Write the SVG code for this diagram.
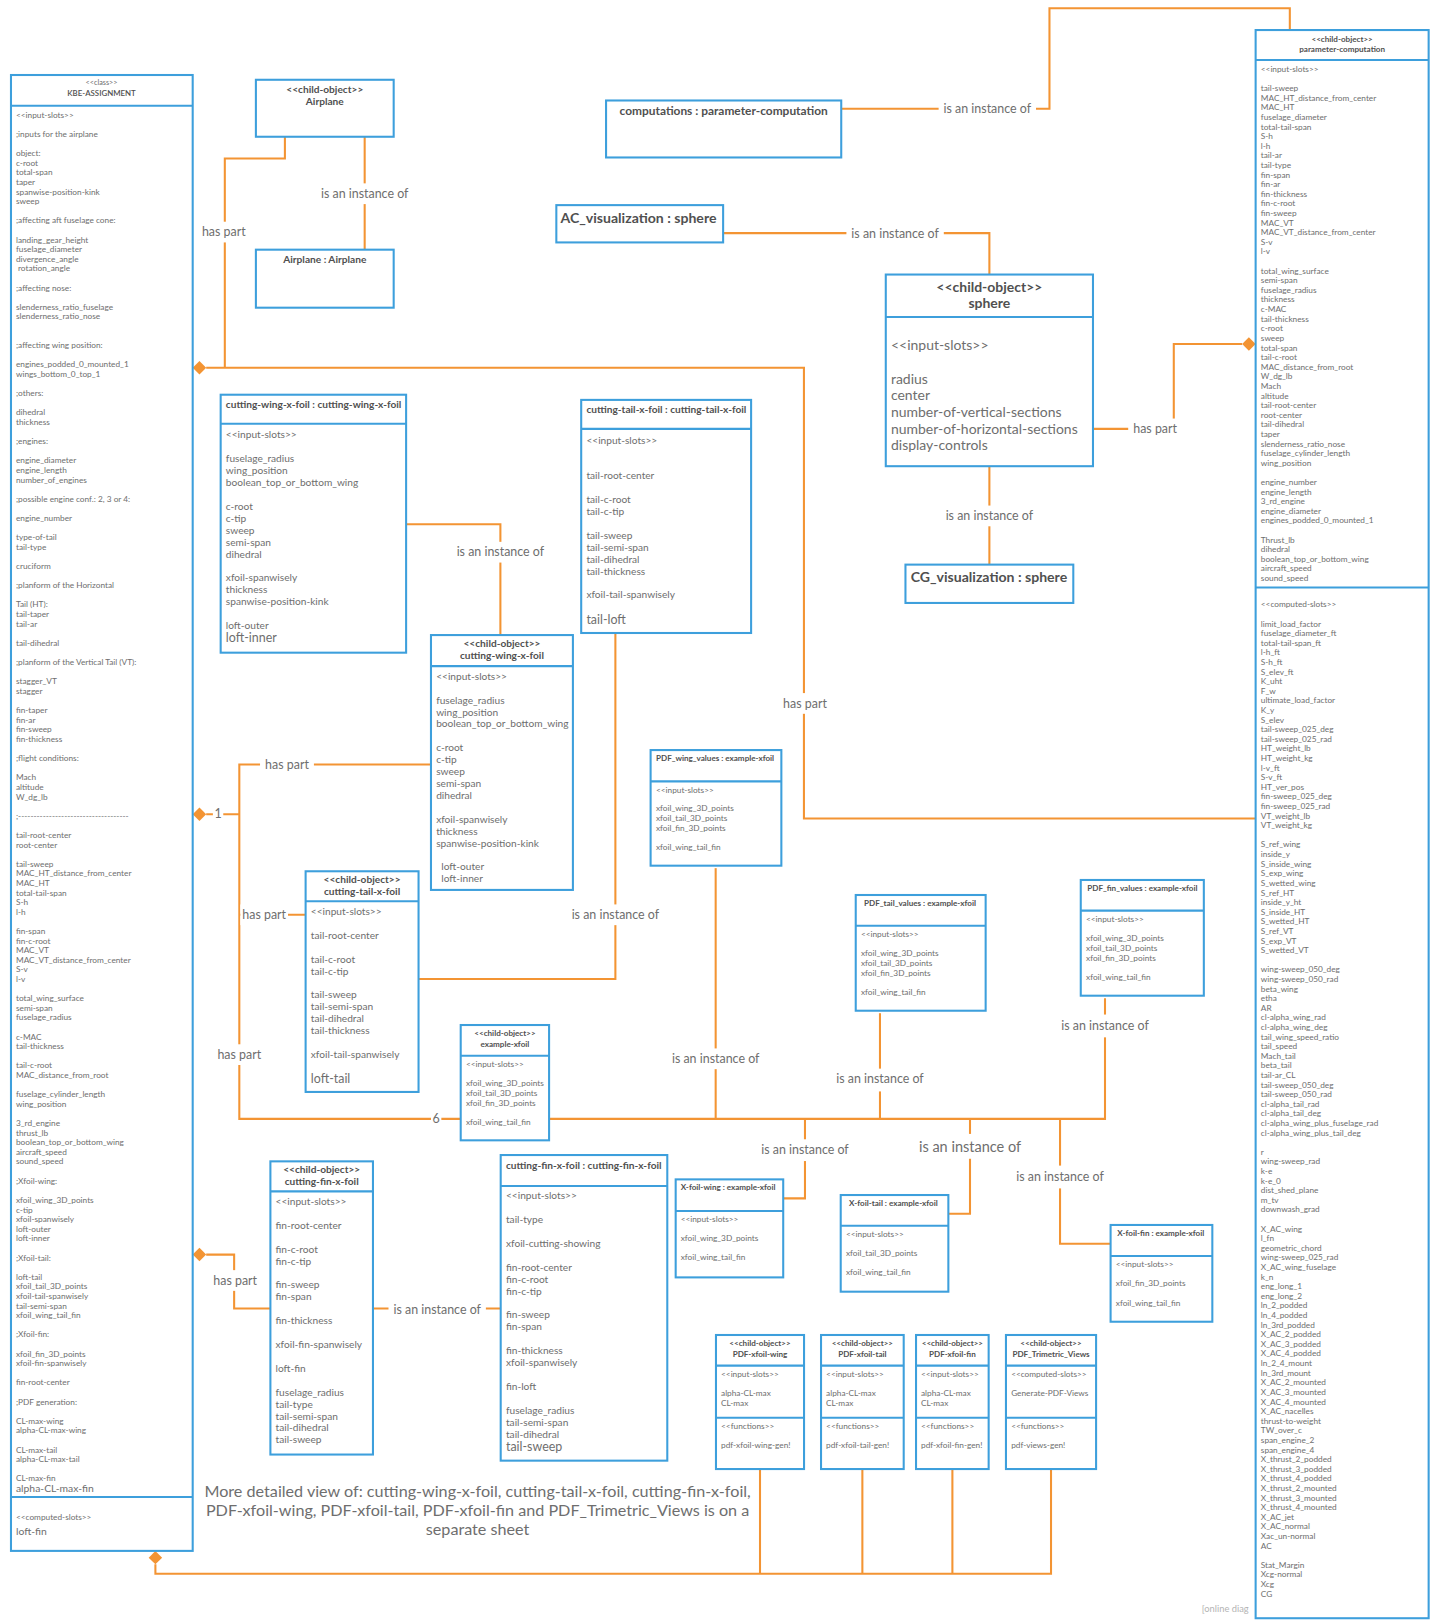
<svg xmlns="http://www.w3.org/2000/svg" width="1440" height="1624" viewBox="0 0 1440 1624">
<style>
.n{fill:#fff;stroke:#3d9fdc;stroke-width:2}
.d{stroke:#3d9fdc;stroke-width:2}
.c{fill:none;stroke:#f39433;stroke-width:2}
.k{fill:#f39433}
text{font-family:Lato,"Liberation Sans",sans-serif;fill:#6e6e6e}
.b{font-weight:700;fill:#505050}
.m{text-anchor:middle}
.s8{font-size:8px}
.s7{font-size:7.8px}
.s10{font-size:9.8px}
.s12{font-size:12px}
.s14{font-size:13.5px}
.lb{font-size:12px;text-anchor:middle}
.bg{fill:#fff}
.wm{font-size:9px;fill:#b4b4b4}
</style>
<rect width="1440" height="1624" fill="#fff"/>
<g transform="scale(1.036)">
<text class="wm" x="1160" y="1556">[online diag</text>

<g id="connectors">
<path class="c" d="M199,355 H776 V790 H1212"/>
<path class="c" d="M217,355 V153 H275 V132"/>
<path class="c" d="M352,132 V241"/>
<path class="c" d="M812,105 H1013 V8 H1245 V29"/>
<path class="c" d="M698,225 H955 V265"/>
<path class="c" d="M955,450 V545"/>
<path class="c" d="M1055,414 H1133 V332 H1199"/>
<path class="c" d="M392,506 H483 V613"/>
<path class="c" d="M594,611 V945 H404"/>
<path class="c" d="M199,786 H231"/>
<path class="c" d="M416,738 H231 V1080 H444.7"/>
<path class="c" d="M231,883 H295"/>
<path class="c" d="M530,1080 H1066.6 V963.6"/>
<path class="c" d="M690.8,838 V1080"/>
<path class="c" d="M849.4,978 V1080"/>
<path class="c" d="M777,1080 V1156.7 H756"/>
<path class="c" d="M936.3,1080 V1171.5 H915.4"/>
<path class="c" d="M1023.2,1080 V1200.5 H1072"/>
<path class="c" d="M199,1211 H226 V1263 H261"/>
<path class="c" d="M360,1263 H483.3"/>
<path class="c" d="M150,1510 V1519 H1014.5 V1418"/>
<path class="c" d="M733.6,1418 V1519 M832.4,1418 V1519 M919.3,1418 V1519"/>
<polygon class="k" points="186,355 192.5,348.5 199,355 192.5,361.5"/>
<polygon class="k" points="186,786 192.5,779.5 199,786 192.5,792.5"/>
<polygon class="k" points="186,1211 192.5,1204.5 199,1211 192.5,1217.5"/>
<polygon class="k" points="1199,332 1205.5,325.5 1212,332 1205.5,338.5"/>
<polygon class="k" points="150,1497 156.5,1503.5 150,1510 143.5,1503.5"/>
</g>

<g id="connector-labels">
<rect class="bg" x="190" y="214" width="52" height="20"/><text class="lb" x="216" y="228">has part</text>
<rect class="bg" x="305" y="177" width="94" height="20"/><text class="lb" x="352" y="191">is an instance of</text>
<rect class="bg" x="906" y="95" width="94" height="20"/><text class="lb" x="953" y="109">is an instance of</text>
<rect class="bg" x="817" y="216" width="94" height="20"/><text class="lb" x="864" y="230">is an instance of</text>
<rect class="bg" x="908" y="488" width="94" height="20"/><text class="lb" x="955" y="502">is an instance of</text>
<rect class="bg" x="1089" y="404" width="52" height="20"/><text class="lb" x="1115" y="418">has part</text>
<rect class="bg" x="436" y="523" width="94" height="20"/><text class="lb" x="483" y="537">is an instance of</text>
<rect class="bg" x="751" y="669" width="52" height="20"/><text class="lb" x="777" y="683">has part</text>
<rect class="bg" x="251" y="728" width="52" height="20"/><text class="lb" x="277" y="742">has part</text>
<rect class="bg" x="205.5" y="777" width="10" height="18"/><text class="lb" x="210.5" y="790">1</text>
<rect class="bg" x="232" y="873" width="46" height="20"/><text class="lb" x="255" y="887">has part</text>
<rect class="bg" x="547" y="873" width="94" height="20"/><text class="lb" x="594" y="887">is an instance of</text>
<rect class="bg" x="205" y="1008" width="52" height="20"/><text class="lb" x="231" y="1022">has part</text>
<rect class="bg" x="416" y="1071" width="10" height="18"/><text class="lb" x="421" y="1084">6</text>
<rect class="bg" x="643.8" y="1012" width="94" height="20"/><text class="lb" x="690.8" y="1026">is an instance of</text>
<rect class="bg" x="802.4" y="1031.5" width="94" height="22"/><text class="lb" x="849.4" y="1045.5">is an instance of</text>
<rect class="bg" x="1019.6" y="979.3" width="94" height="22"/><text class="lb" x="1066.6" y="994.3">is an instance of</text>
<rect class="bg" x="730" y="1099.7" width="94" height="21"/><text class="lb" x="777" y="1113.7">is an instance of</text>
<rect class="bg" x="882.3" y="1094.5" width="108" height="24"/><text class="lb" x="936.3" y="1111.5" style="font-size:14px">is an instance of</text>
<rect class="bg" x="976.2" y="1125.1" width="94" height="22"/><text class="lb" x="1023.2" y="1140.1">is an instance of</text>
<rect class="bg" x="201" y="1226" width="52" height="20"/><text class="lb" x="227" y="1240">has part</text>
<rect class="bg" x="375" y="1254" width="94" height="20"/><text class="lb" x="422" y="1268">is an instance of</text>
</g>

<g id="kbe-assignment">
<rect class="n" x="10.6" y="72.4" width="175.4" height="1424.6"/>
<line class="d" x1="10.6" y1="102" x2="186" y2="102"/>
<line class="d" x1="10.6" y1="1445" x2="186" y2="1445"/>
<text class="m" x="98" y="82.3" style="font-size:7px">&lt;&lt;class&gt;&gt;</text>
<text class="m" x="98" y="92.6" style="font-size:7.6px;font-weight:600;fill:#505050">KBE-ASSIGNMENT</text>
<text class="s8" x="15.4" y="113.6"><tspan>&lt;&lt;input-slots&gt;&gt;</tspan><tspan x="15.4" dy="18.54">;inputs for the airplane</tspan><tspan x="15.4" dy="18.54">object:</tspan><tspan x="15.4" dy="9.27">c-root</tspan><tspan x="15.4" dy="9.27">total-span</tspan><tspan x="15.4" dy="9.27">taper</tspan><tspan x="15.4" dy="9.27">spanwise-position-kink</tspan><tspan x="15.4" dy="9.27">sweep</tspan><tspan x="15.4" dy="18.54">;affecting aft fuselage cone:</tspan><tspan x="15.4" dy="18.54">landing_gear_height</tspan><tspan x="15.4" dy="9.27">fuselage_diameter</tspan><tspan x="15.4" dy="9.27">divergence_angle</tspan><tspan x="17.4" dy="9.27">rotation_angle</tspan><tspan x="15.4" dy="18.54">;affecting nose:</tspan><tspan x="15.4" dy="18.54">slenderness_ratio_fuselage</tspan><tspan x="15.4" dy="9.27">slenderness_ratio_nose</tspan><tspan x="15.4" dy="27.81">;affecting wing position:</tspan><tspan x="15.4" dy="18.54">engines_podded_0_mounted_1</tspan><tspan x="15.4" dy="9.27">wings_bottom_0_top_1</tspan><tspan x="15.4" dy="18.54">;others:</tspan><tspan x="15.4" dy="18.54">dihedral</tspan><tspan x="15.4" dy="9.27">thickness</tspan><tspan x="15.4" dy="18.54">;engines:</tspan><tspan x="15.4" dy="18.54">engine_diameter</tspan><tspan x="15.4" dy="9.27">engine_length</tspan><tspan x="15.4" dy="9.27">number_of_engines</tspan><tspan x="15.4" dy="18.54">;possible engine conf.: 2, 3 or 4:</tspan><tspan x="15.4" dy="18.54">engine_number</tspan><tspan x="15.4" dy="18.54">type-of-tail</tspan><tspan x="15.4" dy="9.27">tail-type</tspan><tspan x="15.4" dy="18.54">cruciform</tspan><tspan x="15.4" dy="18.54">;planform of the Horizontal</tspan><tspan x="15.4" dy="18.54">Tail (HT):</tspan><tspan x="15.4" dy="9.27">tail-taper</tspan><tspan x="15.4" dy="9.27">tail-ar</tspan><tspan x="15.4" dy="18.54">tail-dihedral</tspan><tspan x="15.4" dy="18.54">;planform of the Vertical Tail (VT):</tspan><tspan x="15.4" dy="18.54">stagger_VT</tspan><tspan x="15.4" dy="9.27">stagger</tspan><tspan x="15.4" dy="18.54">fin-taper</tspan><tspan x="15.4" dy="9.27">fin-ar</tspan><tspan x="15.4" dy="9.27">fin-sweep</tspan><tspan x="15.4" dy="9.27">fin-thickness</tspan><tspan x="15.4" dy="18.54">;flight conditions:</tspan><tspan x="15.4" dy="18.54">Mach</tspan><tspan x="15.4" dy="9.27">altitude</tspan><tspan x="15.4" dy="9.27">W_dg_lb</tspan><tspan x="15.4" dy="18.54">;------------------------------------</tspan><tspan x="15.4" dy="18.54">tail-root-center</tspan><tspan x="15.4" dy="9.27">root-center</tspan><tspan x="15.4" dy="18.54">tail-sweep</tspan><tspan x="15.4" dy="9.27">MAC_HT_distance_from_center</tspan><tspan x="15.4" dy="9.27">MAC_HT</tspan><tspan x="15.4" dy="9.27">total-tail-span</tspan><tspan x="15.4" dy="9.27">S-h</tspan><tspan x="15.4" dy="9.27">l-h</tspan><tspan x="15.4" dy="18.54">fin-span</tspan><tspan x="15.4" dy="9.27">fin-c-root</tspan><tspan x="15.4" dy="9.27">MAC_VT</tspan><tspan x="15.4" dy="9.27">MAC_VT_distance_from_center</tspan><tspan x="15.4" dy="9.27">S-v</tspan><tspan x="15.4" dy="9.27">l-v</tspan><tspan x="15.4" dy="18.54">total_wing_surface</tspan><tspan x="15.4" dy="9.27">semi-span</tspan><tspan x="15.4" dy="9.27">fuselage_radius</tspan><tspan x="15.4" dy="18.54">c-MAC</tspan><tspan x="15.4" dy="9.27">tail-thickness</tspan><tspan x="15.4" dy="18.54">tail-c-root</tspan><tspan x="15.4" dy="9.27">MAC_distance_from_root</tspan><tspan x="15.4" dy="18.54">fuselage_cylinder_length</tspan><tspan x="15.4" dy="9.27">wing_position</tspan><tspan x="15.4" dy="18.54">3_rd_engine</tspan><tspan x="15.4" dy="9.27">thrust_lb</tspan><tspan x="15.4" dy="9.27">boolean_top_or_bottom_wing</tspan><tspan x="15.4" dy="9.27">aircraft_speed</tspan><tspan x="15.4" dy="9.27">sound_speed</tspan><tspan x="15.4" dy="18.54">;Xfoil-wing:</tspan><tspan x="15.4" dy="18.54">xfoil_wing_3D_points</tspan><tspan x="15.4" dy="9.27">c-tip</tspan><tspan x="15.4" dy="9.27">xfoil-spanwisely</tspan><tspan x="15.4" dy="9.27">loft-outer</tspan><tspan x="15.4" dy="9.27">loft-inner</tspan><tspan x="15.4" dy="18.54">;Xfoil-tail:</tspan><tspan x="15.4" dy="18.54">loft-tail</tspan><tspan x="15.4" dy="9.27">xfoil_tail_3D_points</tspan><tspan x="15.4" dy="9.27">xfoil-tail-spanwisely</tspan><tspan x="15.4" dy="9.27">tail-semi-span</tspan><tspan x="15.4" dy="9.27">xfoil_wing_tail_fin</tspan><tspan x="15.4" dy="18.54">;Xfoil-fin:</tspan><tspan x="15.4" dy="18.54">xfoil_fin_3D_points</tspan><tspan x="15.4" dy="9.27">xfoil-fin-spanwisely</tspan><tspan x="15.4" dy="18.54">fin-root-center</tspan><tspan x="15.4" dy="18.54">;PDF generation:</tspan><tspan x="15.4" dy="18.54">CL-max-wing</tspan><tspan x="15.4" dy="9.27">alpha-CL-max-wing</tspan><tspan x="15.4" dy="18.54">CL-max-tail</tspan><tspan x="15.4" dy="9.27">alpha-CL-max-tail</tspan><tspan x="15.4" dy="18.54">CL-max-fin</tspan><tspan x="15.4" dy="10" style="font-size:10px">alpha-CL-max-fin</tspan></text>
<text class="s8" x="15.4" y="1467.6">&lt;&lt;computed-slots&gt;&gt;</text>
<text x="15.4" y="1482" style="font-size:10px">loft-fin</text>
</g>

<g id="parameter-computation">
<rect class="n" x="1212" y="29" width="167" height="1533"/>
<line class="d" x1="1212" y1="58" x2="1379" y2="58"/>
<line class="d" x1="1212" y1="567" x2="1379" y2="567"/>
<text class="b s7 m" x="1295.5" y="40.3">&lt;&lt;child-object&gt;&gt;</text>
<text class="b s7 m" x="1295.5" y="50">parameter-computation</text>
<text class="s8" x="1217" y="69.5"><tspan>&lt;&lt;input-slots&gt;&gt;</tspan><tspan x="1217" dy="18.54">tail-sweep</tspan><tspan x="1217" dy="9.27">MAC_HT_distance_from_center</tspan><tspan x="1217" dy="9.27">MAC_HT</tspan><tspan x="1217" dy="9.27">fuselage_diameter</tspan><tspan x="1217" dy="9.27">total-tail-span</tspan><tspan x="1217" dy="9.27">S-h</tspan><tspan x="1217" dy="9.27">l-h</tspan><tspan x="1217" dy="9.27">tail-ar</tspan><tspan x="1217" dy="9.27">tail-type</tspan><tspan x="1217" dy="9.27">fin-span</tspan><tspan x="1217" dy="9.27">fin-ar</tspan><tspan x="1217" dy="9.27">fin-thickness</tspan><tspan x="1217" dy="9.27">fin-c-root</tspan><tspan x="1217" dy="9.27">fin-sweep</tspan><tspan x="1217" dy="9.27">MAC_VT</tspan><tspan x="1217" dy="9.27">MAC_VT_distance_from_center</tspan><tspan x="1217" dy="9.27">S-v</tspan><tspan x="1217" dy="9.27">l-v</tspan><tspan x="1217" dy="18.54">total_wing_surface</tspan><tspan x="1217" dy="9.27">semi-span</tspan><tspan x="1217" dy="9.27">fuselage_radius</tspan><tspan x="1217" dy="9.27">thickness</tspan><tspan x="1217" dy="9.27">c-MAC</tspan><tspan x="1217" dy="9.27">tail-thickness</tspan><tspan x="1217" dy="9.27">c-root</tspan><tspan x="1217" dy="9.27">sweep</tspan><tspan x="1217" dy="9.27">total-span</tspan><tspan x="1217" dy="9.27">tail-c-root</tspan><tspan x="1217" dy="9.27">MAC_distance_from_root</tspan><tspan x="1217" dy="9.27">W_dg_lb</tspan><tspan x="1217" dy="9.27">Mach</tspan><tspan x="1217" dy="9.27">altitude</tspan><tspan x="1217" dy="9.27">tail-root-center</tspan><tspan x="1217" dy="9.27">root-center</tspan><tspan x="1217" dy="9.27">tail-dihedral</tspan><tspan x="1217" dy="9.27">taper</tspan><tspan x="1217" dy="9.27">slenderness_ratio_nose</tspan><tspan x="1217" dy="9.27">fuselage_cylinder_length</tspan><tspan x="1217" dy="9.27">wing_position</tspan><tspan x="1217" dy="18.54">engine_number</tspan><tspan x="1217" dy="9.27">engine_length</tspan><tspan x="1217" dy="9.27">3_rd_engine</tspan><tspan x="1217" dy="9.27">engine_diameter</tspan><tspan x="1217" dy="9.27">engines_podded_0_mounted_1</tspan><tspan x="1217" dy="18.54">Thrust_lb</tspan><tspan x="1217" dy="9.27">dihedral</tspan><tspan x="1217" dy="9.27">boolean_top_or_bottom_wing</tspan><tspan x="1217" dy="9.27">aircraft_speed</tspan><tspan x="1217" dy="9.27">sound_speed</tspan></text>
<text class="s8" x="1217" y="586.3"><tspan>&lt;&lt;computed-slots&gt;&gt;</tspan><tspan x="1217" dy="18.54">limit_load_factor</tspan><tspan x="1217" dy="9.27">fuselage_diameter_ft</tspan><tspan x="1217" dy="9.27">total-tail-span_ft</tspan><tspan x="1217" dy="9.27">l-h_ft</tspan><tspan x="1217" dy="9.27">S-h_ft</tspan><tspan x="1217" dy="9.27">S_elev_ft</tspan><tspan x="1217" dy="9.27">K_uht</tspan><tspan x="1217" dy="9.27">F_w</tspan><tspan x="1217" dy="9.27">ultimate_load_factor</tspan><tspan x="1217" dy="9.27">K_y</tspan><tspan x="1217" dy="9.27">S_elev</tspan><tspan x="1217" dy="9.27">tail-sweep_025_deg</tspan><tspan x="1217" dy="9.27">tail-sweep_025_rad</tspan><tspan x="1217" dy="9.27">HT_weight_lb</tspan><tspan x="1217" dy="9.27">HT_weight_kg</tspan><tspan x="1217" dy="9.27">l-v_ft</tspan><tspan x="1217" dy="9.27">S-v_ft</tspan><tspan x="1217" dy="9.27">HT_ver_pos</tspan><tspan x="1217" dy="9.27">fin-sweep_025_deg</tspan><tspan x="1217" dy="9.27">fin-sweep_025_rad</tspan><tspan x="1217" dy="9.27">VT_weight_lb</tspan><tspan x="1217" dy="9.27">VT_weight_kg</tspan><tspan x="1217" dy="18.54">S_ref_wing</tspan><tspan x="1217" dy="9.27">inside_y</tspan><tspan x="1217" dy="9.27">S_inside_wing</tspan><tspan x="1217" dy="9.27">S_exp_wing</tspan><tspan x="1217" dy="9.27">S_wetted_wing</tspan><tspan x="1217" dy="9.27">S_ref_HT</tspan><tspan x="1217" dy="9.27">inside_y_ht</tspan><tspan x="1217" dy="9.27">S_inside_HT</tspan><tspan x="1217" dy="9.27">S_wetted_HT</tspan><tspan x="1217" dy="9.27">S_ref_VT</tspan><tspan x="1217" dy="9.27">S_exp_VT</tspan><tspan x="1217" dy="9.27">S_wetted_VT</tspan><tspan x="1217" dy="18.54">wing-sweep_050_deg</tspan><tspan x="1217" dy="9.27">wing-sweep_050_rad</tspan><tspan x="1217" dy="9.27">beta_wing</tspan><tspan x="1217" dy="9.27">etha</tspan><tspan x="1217" dy="9.27">AR</tspan><tspan x="1217" dy="9.27">cl-alpha_wing_rad</tspan><tspan x="1217" dy="9.27">cl-alpha_wing_deg</tspan><tspan x="1217" dy="9.27">tail_wing_speed_ratio</tspan><tspan x="1217" dy="9.27">tail_speed</tspan><tspan x="1217" dy="9.27">Mach_tail</tspan><tspan x="1217" dy="9.27">beta_tail</tspan><tspan x="1217" dy="9.27">tail-ar_CL</tspan><tspan x="1217" dy="9.27">tail-sweep_050_deg</tspan><tspan x="1217" dy="9.27">tail-sweep_050_rad</tspan><tspan x="1217" dy="9.27">cl-alpha_tail_rad</tspan><tspan x="1217" dy="9.27">cl-alpha_tail_deg</tspan><tspan x="1217" dy="9.27">cl-alpha_wing_plus_fuselage_rad</tspan><tspan x="1217" dy="9.27">cl-alpha_wing_plus_tail_deg</tspan><tspan x="1217" dy="18.54">r</tspan><tspan x="1217" dy="9.27">wing-sweep_rad</tspan><tspan x="1217" dy="9.27">k-e</tspan><tspan x="1217" dy="9.27">k-e_0</tspan><tspan x="1217" dy="9.27">dist_shed_plane</tspan><tspan x="1217" dy="9.27">m_tv</tspan><tspan x="1217" dy="9.27">downwash_grad</tspan><tspan x="1217" dy="18.54">X_AC_wing</tspan><tspan x="1217" dy="9.27">l_fn</tspan><tspan x="1217" dy="9.27">geometric_chord</tspan><tspan x="1217" dy="9.27">wing-sweep_025_rad</tspan><tspan x="1217" dy="9.27">X_AC_wing_fuselage</tspan><tspan x="1217" dy="9.27">k_n</tspan><tspan x="1217" dy="9.27">eng_long_1</tspan><tspan x="1217" dy="9.27">eng_long_2</tspan><tspan x="1217" dy="9.27">ln_2_podded</tspan><tspan x="1217" dy="9.27">ln_4_podded</tspan><tspan x="1217" dy="9.27">ln_3rd_podded</tspan><tspan x="1217" dy="9.27">X_AC_2_podded</tspan><tspan x="1217" dy="9.27">X_AC_3_podded</tspan><tspan x="1217" dy="9.27">X_AC_4_podded</tspan><tspan x="1217" dy="9.27">ln_2_4_mount</tspan><tspan x="1217" dy="9.27">ln_3rd_mount</tspan><tspan x="1217" dy="9.27">X_AC_2_mounted</tspan><tspan x="1217" dy="9.27">X_AC_3_mounted</tspan><tspan x="1217" dy="9.27">X_AC_4_mounted</tspan><tspan x="1217" dy="9.27">X_AC_nacelles</tspan><tspan x="1217" dy="9.27">thrust-to-weight</tspan><tspan x="1217" dy="9.27">TW_over_c</tspan><tspan x="1217" dy="9.27">span_engine_2</tspan><tspan x="1217" dy="9.27">span_engine_4</tspan><tspan x="1217" dy="9.27">X_thrust_2_podded</tspan><tspan x="1217" dy="9.27">X_thrust_3_podded</tspan><tspan x="1217" dy="9.27">X_thrust_4_podded</tspan><tspan x="1217" dy="9.27">X_thrust_2_mounted</tspan><tspan x="1217" dy="9.27">X_thrust_3_mounted</tspan><tspan x="1217" dy="9.27">X_thrust_4_mounted</tspan><tspan x="1217" dy="9.27">X_AC_jet</tspan><tspan x="1217" dy="9.27">X_AC_normal</tspan><tspan x="1217" dy="9.27">Xac_un-normal</tspan><tspan x="1217" dy="9.27">AC</tspan><tspan x="1217" dy="18.54">Stat_Margin</tspan><tspan x="1217" dy="9.27">Xcg-normal</tspan><tspan x="1217" dy="9.27">Xcg</tspan><tspan x="1217" dy="9.27">CG</tspan></text>
</g>

<g id="airplane-class">
<rect class="n" x="247" y="77" width="133" height="55"/>
<text class="b s10 m" x="313.5" y="89.5">&lt;&lt;child-object&gt;&gt;</text>
<text class="b s10 m" x="313.5" y="101.5">Airplane</text>
</g>
<g id="airplane-instance">
<rect class="n" x="247" y="241" width="133" height="56"/>
<text class="b s10 m" x="313.5" y="253.5">Airplane : Airplane</text>
</g>
<g id="computations">
<rect class="n" x="585" y="97" width="227" height="55"/>
<text class="b m" x="698.5" y="111" style="font-size:11.5px">computations : parameter-computation</text>
</g>
<g id="ac-visualization">
<rect class="n" x="537" y="198" width="161" height="36"/>
<text class="b" x="541" y="215" style="font-size:13.6px">AC_visualization : sphere</text>
</g>
<g id="sphere">
<rect class="n" x="855" y="265" width="200" height="185"/>
<line class="d" x1="855" y1="306" x2="1055" y2="306"/>
<text class="b s14 m" x="955" y="281.5">&lt;&lt;child-object&gt;&gt;</text>
<text class="b s14 m" x="955" y="297.5">sphere</text>
<text class="s14" x="860" y="337.5"><tspan>&lt;&lt;input-slots&gt;&gt;</tspan><tspan x="860" dy="33">radius</tspan><tspan x="860" dy="16">center</tspan><tspan x="860" dy="16">number-of-vertical-sections</tspan><tspan x="860" dy="16">number-of-horizontal-sections</tspan><tspan x="860" dy="16">display-controls</tspan></text>
</g>
<g id="cg-visualization">
<rect class="n" x="874" y="545" width="162" height="37"/>
<text class="b" x="879" y="562" style="font-size:13.6px">CG_visualization : sphere</text>
</g>

<g id="cutting-wing-instance">
<rect class="n" x="213" y="381" width="179" height="249"/>
<line class="d" x1="213" y1="409" x2="392" y2="409"/>
<text class="b s10" x="218" y="393.5">cutting-wing-x-foil : cutting-wing-x-foil</text>
<text class="s10" x="218" y="423.2"><tspan>&lt;&lt;input-slots&gt;&gt;</tspan><tspan x="218" dy="23">fuselage_radius</tspan><tspan x="218" dy="11.5">wing_position</tspan><tspan x="218" dy="11.5">boolean_top_or_bottom_wing</tspan><tspan x="218" dy="23">c-root</tspan><tspan x="218" dy="11.5">c-tip</tspan><tspan x="218" dy="11.5">sweep</tspan><tspan x="218" dy="11.5">semi-span</tspan><tspan x="218" dy="11.5">dihedral</tspan><tspan x="218" dy="23">xfoil-spanwisely</tspan><tspan x="218" dy="11.5">thickness</tspan><tspan x="218" dy="11.5">spanwise-position-kink</tspan><tspan x="218" dy="23">loft-outer</tspan><tspan x="218" dy="12.5" class="s12">loft-inner</tspan></text>
</g>

<g id="cutting-tail-instance">
<rect class="n" x="561" y="386" width="164" height="225"/>
<line class="d" x1="561" y1="414" x2="725" y2="414"/>
<text class="b s10" x="566" y="398.5">cutting-tail-x-foil : cutting-tail-x-foil</text>
<text class="s10" x="566" y="428.2"><tspan>&lt;&lt;input-slots&gt;&gt;</tspan><tspan x="566" dy="34.5">tail-root-center</tspan><tspan x="566" dy="23">tail-c-root</tspan><tspan x="566" dy="11.5">tail-c-tip</tspan><tspan x="566" dy="23">tail-sweep</tspan><tspan x="566" dy="11.5">tail-semi-span</tspan><tspan x="566" dy="11.5">tail-dihedral</tspan><tspan x="566" dy="11.5">tail-thickness</tspan><tspan x="566" dy="23">xfoil-tail-spanwisely</tspan><tspan x="566" dy="24.5" class="s12">tail-loft</tspan></text>
</g>

<g id="cutting-wing-child">
<rect class="n" x="416" y="613" width="137" height="246"/>
<line class="d" x1="416" y1="643" x2="553" y2="643"/>
<text class="b s10 m" x="484.5" y="624.5">&lt;&lt;child-object&gt;&gt;</text>
<text class="b s10 m" x="484.5" y="636.5">cutting-wing-x-foil</text>
<text class="s10" x="421" y="656.2"><tspan>&lt;&lt;input-slots&gt;&gt;</tspan><tspan x="421" dy="23">fuselage_radius</tspan><tspan x="421" dy="11.5">wing_position</tspan><tspan x="421" dy="11.5">boolean_top_or_bottom_wing</tspan><tspan x="421" dy="23">c-root</tspan><tspan x="421" dy="11.5">c-tip</tspan><tspan x="421" dy="11.5">sweep</tspan><tspan x="421" dy="11.5">semi-span</tspan><tspan x="421" dy="11.5">dihedral</tspan><tspan x="421" dy="23">xfoil-spanwisely</tspan><tspan x="421" dy="11.5">thickness</tspan><tspan x="421" dy="11.5">spanwise-position-kink</tspan><tspan x="426" dy="23">loft-outer</tspan><tspan x="426" dy="11.5">loft-inner</tspan></text>
</g>

<g id="cutting-tail-child">
<rect class="n" x="295" y="841" width="109" height="213"/>
<line class="d" x1="295" y1="870" x2="404" y2="870"/>
<text class="b s10 m" x="349.5" y="852.5">&lt;&lt;child-object&gt;&gt;</text>
<text class="b s10 m" x="349.5" y="863.5">cutting-tail-x-foil</text>
<text class="s10" x="300" y="883.2"><tspan>&lt;&lt;input-slots&gt;&gt;</tspan><tspan x="300" dy="23">tail-root-center</tspan><tspan x="300" dy="23">tail-c-root</tspan><tspan x="300" dy="11.5">tail-c-tip</tspan><tspan x="300" dy="23">tail-sweep</tspan><tspan x="300" dy="11.5">tail-semi-span</tspan><tspan x="300" dy="11.5">tail-dihedral</tspan><tspan x="300" dy="11.5">tail-thickness</tspan><tspan x="300" dy="23">xfoil-tail-spanwisely</tspan><tspan x="300" dy="24.5" class="s12">loft-tail</tspan></text>
</g>

<g id="cutting-fin-child">
<rect class="n" x="261" y="1121" width="99" height="283"/>
<line class="d" x1="261" y1="1150" x2="360" y2="1150"/>
<text class="b s10 m" x="310.5" y="1132.5">&lt;&lt;child-object&gt;&gt;</text>
<text class="b s10 m" x="310.5" y="1143.5">cutting-fin-x-foil</text>
<text class="s10" x="266" y="1163.2"><tspan>&lt;&lt;input-slots&gt;&gt;</tspan><tspan x="266" dy="23">fin-root-center</tspan><tspan x="266" dy="23">fin-c-root</tspan><tspan x="266" dy="11.5">fin-c-tip</tspan><tspan x="266" dy="23">fin-sweep</tspan><tspan x="266" dy="11.5">fin-span</tspan><tspan x="266" dy="23">fin-thickness</tspan><tspan x="266" dy="23">xfoil-fin-spanwisely</tspan><tspan x="266" dy="23">loft-fin</tspan><tspan x="266" dy="23">fuselage_radius</tspan><tspan x="266" dy="11.5">tail-type</tspan><tspan x="266" dy="11.5">tail-semi-span</tspan><tspan x="266" dy="11.5">tail-dihedral</tspan><tspan x="266" dy="11.5">tail-sweep</tspan></text>
</g>

<g id="cutting-fin-instance">
<rect class="n" x="483.3" y="1114.9" width="160.8" height="295"/>
<line class="d" x1="483.3" y1="1144.8" x2="644.1" y2="1144.8"/>
<text class="b s10" x="488.4" y="1128">cutting-fin-x-foil : cutting-fin-x-foil</text>
<text class="s10" x="488.4" y="1157.6"><tspan>&lt;&lt;input-slots&gt;&gt;</tspan><tspan x="488.4" dy="23">tail-type</tspan><tspan x="488.4" dy="23">xfoil-cutting-showing</tspan><tspan x="488.4" dy="23">fin-root-center</tspan><tspan x="488.4" dy="11.5">fin-c-root</tspan><tspan x="488.4" dy="11.5">fin-c-tip</tspan><tspan x="488.4" dy="23">fin-sweep</tspan><tspan x="488.4" dy="11.5">fin-span</tspan><tspan x="488.4" dy="23">fin-thickness</tspan><tspan x="488.4" dy="11.5">xfoil-spanwisely</tspan><tspan x="488.4" dy="23">fin-loft</tspan><tspan x="488.4" dy="23">fuselage_radius</tspan><tspan x="488.4" dy="11.5">tail-semi-span</tspan><tspan x="488.4" dy="11.5">tail-dihedral</tspan><tspan x="488.4" dy="12.5" class="s12">tail-sweep</tspan></text>
</g>

<g id="pdf-wing-values">
<rect class="n" x="628" y="724" width="126.2" height="111.6"/>
<line class="d" x1="628" y1="754.2" x2="754.2" y2="754.2"/>
<text class="b s7" x="633.2" y="735">PDF_wing_values : example-xfoil</text>
<text class="s8" x="633.2" y="765.1"><tspan>&lt;&lt;input-slots&gt;&gt;</tspan><tspan x="633.2" dy="18.1">xfoil_wing_3D_points</tspan><tspan x="633.2" dy="9.6">xfoil_tail_3D_points</tspan><tspan x="633.2" dy="9.7">xfoil_fin_3D_points</tspan><tspan x="633.2" dy="18.3">xfoil_wing_tail_fin</tspan></text>
</g>
<g id="pdf-tail-values">
<rect class="n" x="826" y="863.9" width="125.4" height="111.7"/>
<line class="d" x1="826" y1="893.5" x2="951.4" y2="893.5"/>
<text class="b s7" x="834" y="874.7">PDF_tail_values : example-xfoil</text>
<text class="s8" x="831" y="904.5"><tspan>&lt;&lt;input-slots&gt;&gt;</tspan><tspan x="831" dy="18.3">xfoil_wing_3D_points</tspan><tspan x="831" dy="9.4">xfoil_tail_3D_points</tspan><tspan x="831" dy="9.7">xfoil_fin_3D_points</tspan><tspan x="831" dy="18.3">xfoil_wing_tail_fin</tspan></text>
</g>
<g id="pdf-fin-values">
<rect class="n" x="1043.2" y="849.4" width="118.8" height="111.7"/>
<line class="d" x1="1043.2" y1="879" x2="1162" y2="879"/>
<text class="b s7" x="1049.5" y="860.2">PDF_fin_values : example-xfoil</text>
<text class="s8" x="1048.3" y="889.6"><tspan>&lt;&lt;input-slots&gt;&gt;</tspan><tspan x="1048.3" dy="18.7">xfoil_wing_3D_points</tspan><tspan x="1048.3" dy="9.7">xfoil_tail_3D_points</tspan><tspan x="1048.3" dy="9.6">xfoil_fin_3D_points</tspan><tspan x="1048.3" dy="18.4">xfoil_wing_tail_fin</tspan></text>
</g>
<g id="example-xfoil">
<rect class="n" x="444.7" y="989.4" width="85.3" height="111.3"/>
<line class="d" x1="444.7" y1="1019" x2="530" y2="1019"/>
<text class="b s7 m" x="487.4" y="1000">&lt;&lt;child-object&gt;&gt;</text>
<text class="b s7 m" x="487.4" y="1010.4">example-xfoil</text>
<text class="s8" x="449.8" y="1029.9"><tspan>&lt;&lt;input-slots&gt;&gt;</tspan><tspan x="449.8" dy="18.7">xfoil_wing_3D_points</tspan><tspan x="449.8" dy="9.3">xfoil_tail_3D_points</tspan><tspan x="449.8" dy="9.4">xfoil_fin_3D_points</tspan><tspan x="449.8" dy="18.6">xfoil_wing_tail_fin</tspan></text>
</g>
<g id="x-foil-wing">
<rect class="n" x="652.2" y="1138.4" width="103.8" height="94.6"/>
<line class="d" x1="652.2" y1="1169" x2="756" y2="1169"/>
<text class="b s7" x="657" y="1149">X-foil-wing : example-xfoil</text>
<text class="s8" x="657" y="1179.6"><tspan>&lt;&lt;input-slots&gt;&gt;</tspan><tspan x="657" dy="18.3">xfoil_wing_3D_points</tspan><tspan x="657" dy="18.6">xfoil_wing_tail_fin</tspan></text>
</g>
<g id="x-foil-tail">
<rect class="n" x="811.5" y="1153.5" width="103.9" height="93.3"/>
<line class="d" x1="811.5" y1="1183.1" x2="915.4" y2="1183.1"/>
<text class="b s7" x="819.5" y="1164">X-foil-tail : example-xfoil</text>
<text class="s8" x="816.6" y="1194"><tspan>&lt;&lt;input-slots&gt;&gt;</tspan><tspan x="816.6" dy="18.5">xfoil_tail_3D_points</tspan><tspan x="816.6" dy="18.5">xfoil_wing_tail_fin</tspan></text>
</g>
<g id="x-foil-fin">
<rect class="n" x="1072" y="1182.4" width="98.2" height="93.4"/>
<line class="d" x1="1072" y1="1212.4" x2="1170.2" y2="1212.4"/>
<text class="b s7" x="1078.5" y="1193">X-foil-fin : example-xfoil</text>
<text class="s8" x="1077" y="1223"><tspan>&lt;&lt;input-slots&gt;&gt;</tspan><tspan x="1077" dy="18.4">xfoil_fin_3D_points</tspan><tspan x="1077" dy="19.2">xfoil_wing_tail_fin</tspan></text>
</g>

<g id="pdf-xfoil-wing">
<rect class="n" x="691.1" y="1288.6" width="85" height="129.4"/>
<line class="d" x1="691.1" y1="1318.2" x2="776.1" y2="1318.2"/>
<line class="d" x1="691.1" y1="1368.4" x2="776.1" y2="1368.4"/>
<text class="b s7 m" x="733.6" y="1299.3">&lt;&lt;child-object&gt;&gt;</text>
<text class="b s7 m" x="733.6" y="1309.4">PDF-xfoil-wing</text>
<text class="s8" x="696" y="1329.2"><tspan>&lt;&lt;input-slots&gt;&gt;</tspan><tspan x="696" dy="18.3">alpha-CL-max</tspan><tspan x="696" dy="9.7">CL-max</tspan><tspan x="696" dy="22.4">&lt;&lt;functions&gt;&gt;</tspan><tspan x="696" dy="18">pdf-xfoil-wing-gen!</tspan></text>
</g>
<g id="pdf-xfoil-tail">
<rect class="n" x="792.5" y="1288.6" width="79.8" height="129.4"/>
<line class="d" x1="792.5" y1="1318.2" x2="872.3" y2="1318.2"/>
<line class="d" x1="792.5" y1="1368.4" x2="872.3" y2="1368.4"/>
<text class="b s7 m" x="832.4" y="1299.3">&lt;&lt;child-object&gt;&gt;</text>
<text class="b s7 m" x="832.4" y="1309.4">PDF-xfoil-tail</text>
<text class="s8" x="797.4" y="1329.2"><tspan>&lt;&lt;input-slots&gt;&gt;</tspan><tspan x="797.4" dy="18.3">alpha-CL-max</tspan><tspan x="797.4" dy="9.7">CL-max</tspan><tspan x="797.4" dy="22.4">&lt;&lt;functions&gt;&gt;</tspan><tspan x="797.4" dy="18">pdf-xfoil-tail-gen!</tspan></text>
</g>
<g id="pdf-xfoil-fin">
<rect class="n" x="884.2" y="1288.6" width="70.1" height="129.4"/>
<line class="d" x1="884.2" y1="1318.2" x2="954.3" y2="1318.2"/>
<line class="d" x1="884.2" y1="1368.4" x2="954.3" y2="1368.4"/>
<text class="b s7 m" x="919.3" y="1299.3">&lt;&lt;child-object&gt;&gt;</text>
<text class="b s7 m" x="919.3" y="1309.4">PDF-xfoil-fin</text>
<text class="s8" x="889" y="1329.2"><tspan>&lt;&lt;input-slots&gt;&gt;</tspan><tspan x="889" dy="18.3">alpha-CL-max</tspan><tspan x="889" dy="9.7">CL-max</tspan><tspan x="889" dy="22.4">&lt;&lt;functions&gt;&gt;</tspan><tspan x="889" dy="18">pdf-xfoil-fin-gen!</tspan></text>
</g>
<g id="pdf-trimetric-views">
<rect class="n" x="971" y="1288.6" width="87" height="129.4"/>
<line class="d" x1="971" y1="1318.2" x2="1058" y2="1318.2"/>
<line class="d" x1="971" y1="1368.4" x2="1058" y2="1368.4"/>
<text class="b s7 m" x="1014.5" y="1299.3">&lt;&lt;child-object&gt;&gt;</text>
<text class="b s7 m" x="1014.5" y="1309.4">PDF_Trimetric_Views</text>
<text class="s8" x="976" y="1329.2"><tspan>&lt;&lt;computed-slots&gt;&gt;</tspan><tspan x="976" dy="18.3">Generate-PDF-Views</tspan><tspan x="976" dy="32.1">&lt;&lt;functions&gt;&gt;</tspan><tspan x="976" dy="18">pdf-views-gen!</tspan></text>
</g>

<text class="m" x="461" y="1445" style="font-size:15.6px"><tspan>More detailed view of: cutting-wing-x-foil, cutting-tail-x-foil, cutting-fin-x-foil,</tspan><tspan x="461" dy="18.5">PDF-xfoil-wing, PDF-xfoil-tail, PDF-xfoil-fin and PDF_Trimetric_Views is on a</tspan><tspan x="461" dy="18.5">separate sheet</tspan></text>
</g>
</svg>
